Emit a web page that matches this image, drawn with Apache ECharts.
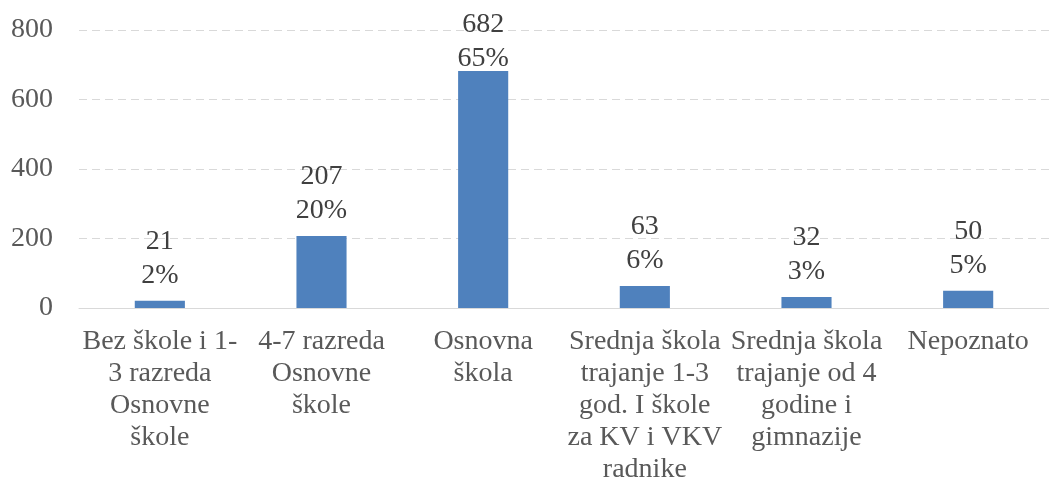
<!DOCTYPE html>
<html>
<head>
<meta charset="utf-8">
<script src="https://cdn.jsdelivr.net/npm/echarts@6/dist/echarts.min.js"></script>
<style>html,body{margin:0;padding:0;background:#fff;}#c{width:1049px;height:487px;}</style>
</head>
<body>
<div id="c"></div>
<script>
const categories = [
  "Bez škole i 1-\n3 razreda\nOsnovne\nškole",
  "4-7 razreda\nOsnovne\nškole",
  "Osnovna\nškola",
  "Srednja škola\ntrajanje 1-3\ngod. I škole\nza KV i VKV\nradnike",
  "Srednja škola\ntrajanje od 4\ngodine i\ngimnazije",
  "Nepoznato"
];
const values = [21, 207, 682, 63, 32, 50];
const percents = ["2%", "20%", "65%", "6%", "3%", "5%"];
const yTicks = { min: 0, max: 800, interval: 200 };

const chart = echarts.init(document.getElementById('c'), null, { renderer: 'canvas' });
const font = '"Liberation Serif", "Times New Roman", serif';
const maxV = Math.max(...values);
const seriesData = values.map(v => v === maxV
  ? { value: v, label: { distance: -5 } }   // label squeezed against the chart top, as in the reference
  : v);
chart.setOption({
  animation: false,
  grid: { left: 79, right: 0, top: 30, bottom: 179, containLabel: false },
  xAxis: {
    type: 'category',
    data: categories,
    axisTick: { show: false },
    axisLine: { lineStyle: { color: '#d9d9d9', width: 1 } },
    axisLabel: {
      interval: 0, margin: 18, color: '#595959', fontFamily: font, fontSize: 28,
      lineHeight: 32, align: 'center'
    }
  },
  yAxis: {
    type: 'value',
    min: yTicks.min, max: yTicks.max, interval: yTicks.interval,
    axisLine: { show: false },
    axisTick: { show: false },
    axisLabel: { color: '#595959', fontFamily: font, fontSize: 28, margin: 26 },
    splitLine: { lineStyle: { color: '#d9d9d9', type: [8, 5], width: 1 } }
  },
  series: [{
    type: 'bar',
    data: seriesData,
    barWidth: '31%',
    itemStyle: { color: '#4f81bd' },
    label: {
      show: true, position: 'top', distance: 8,
      color: '#404040', fontFamily: font, fontSize: 28, lineHeight: 34,
      formatter: p => p.value + '\n' + percents[p.dataIndex]
    }
  }]
});
</script>
</body>
</html>
